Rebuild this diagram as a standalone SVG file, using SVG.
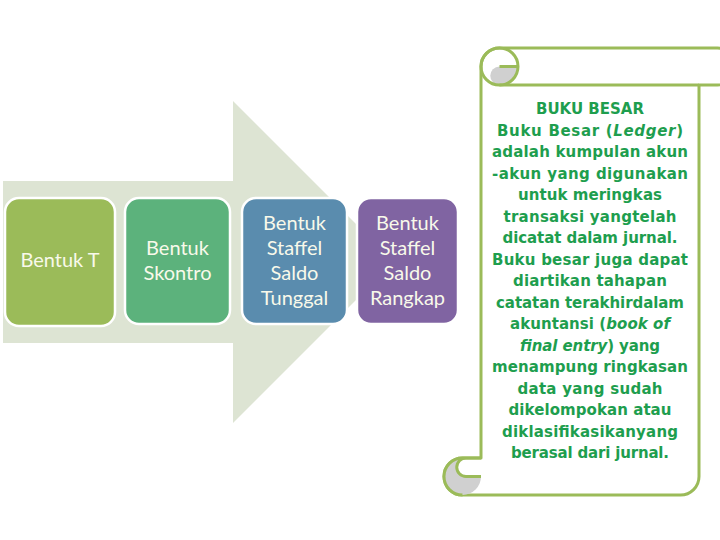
<svg xmlns="http://www.w3.org/2000/svg" width="720" height="540" viewBox="0 0 720 540">
<style>
.box{stroke:#ffffff;stroke-width:2.5}
.bt{font-family:Lato,"Open Sans","Liberation Sans",sans-serif;font-size:20px;fill:#f8f9ea;text-anchor:middle}
.st{font-family:"DejaVu Sans","Liberation Sans",sans-serif;font-weight:bold;font-size:15px;fill:#1e9e4e;text-anchor:middle}
.it{font-style:italic}
.ol{fill:none;stroke:#9bbb59;stroke-width:3;stroke-linejoin:round}
</style>
<rect width="720" height="540" fill="#ffffff"/>
<g id="arrow">
<polygon points="3,181 233,181 233,101 394,262 233,423 233,343 3,343" fill="#dde4d3"/>
</g>
<g id="node-t">
<rect class="box" x="5" y="198" width="110" height="128" rx="14" fill="#9bbb59"/>
<text class="bt" x="60" y="267">Bentuk T</text>
</g>
<g id="node-skontro">
<rect class="box" x="125" y="198" width="105" height="126" rx="14" fill="#5cb27c"/>
<text class="bt" x="177.5" y="255">Bentuk</text>
<text class="bt" x="177.5" y="280">Skontro</text>
</g>
<g id="node-tunggal">
<rect class="box" x="242" y="198" width="105" height="126" rx="14" fill="#5a8cae"/>
<text class="bt" x="294.5" y="230">Bentuk</text>
<text class="bt" x="294.5" y="255">Staffel</text>
<text class="bt" x="294.5" y="280">Saldo</text>
<text class="bt" x="294.5" y="305">Tunggal</text>
</g>
<g id="node-rangkap">
<rect class="box" x="357" y="198" width="101" height="126" rx="14" fill="#8064a2"/>
<text class="bt" x="407.5" y="230">Bentuk</text>
<text class="bt" x="407.5" y="255">Staffel</text>
<text class="bt" x="407.5" y="280">Saldo</text>
<text class="bt" x="407.5" y="305">Rangkap</text>
</g>
<g id="scroll">
<path class="ol" style="fill:#ffffff" d="M481,66.5 A18.5,18.5 0 0 1 499.5,48 H717.5 A18.5,18.5 0 0 1 717.5,85 H699 V476.5 A18.5,18.5 0 0 1 680.5,495 H462.5 A18.5,18.5 0 0 1 462.5,458 H481 Z"/>
<path d="M518,66.5 A18.5,18.5 0 0 1 499.5,85 A9.25,9.25 0 0 1 499.5,66.5 Z" fill="#d0d0d0"/>
<circle class="ol" cx="499.5" cy="66.5" r="18.5"/>
<path class="ol" d="M499.5,66.5 H518 M499.5,85 H699"/>
<path d="M481,476.5 A18.5,18.5 0 1 1 462.5,458 H466 A9.25,9.25 0 0 0 466,476.5 Z" fill="#d0d0d0"/>
<path class="ol" d="M462.5,458 H481 M466,458 A9.25,9.25 0 0 0 466,476.5 H481 M462.5,495 A18.5,18.5 0 0 1 462.5,458"/>
<text class="st" x="590" y="114" textLength="108" lengthAdjust="spacing">BUKU BESAR</text>
<text class="st" x="590" y="135.5" textLength="186" lengthAdjust="spacing">Buku Besar (<tspan class="it">Ledger</tspan>)</text>
<text class="st" x="590" y="157" textLength="196" lengthAdjust="spacing">adalah kumpulan akun</text>
<text class="st" x="590" y="178.5" textLength="196" lengthAdjust="spacing">-akun yang digunakan</text>
<text class="st" x="590" y="200" textLength="144" lengthAdjust="spacing">untuk meringkas</text>
<text class="st" x="590" y="221.5" textLength="173" lengthAdjust="spacing">transaksi yangtelah</text>
<text class="st" x="590" y="243" textLength="175" lengthAdjust="spacing">dicatat dalam jurnal.</text>
<text class="st" x="590" y="264.5" textLength="196" lengthAdjust="spacing">Buku besar juga dapat</text>
<text class="st" x="590" y="286" textLength="154" lengthAdjust="spacing">diartikan tahapan</text>
<text class="st" x="590" y="307.5" textLength="188" lengthAdjust="spacing">catatan terakhirdalam</text>
<text class="st" x="590" y="329" textLength="160" lengthAdjust="spacing">akuntansi (<tspan class="it">book of</tspan></text>
<text class="st" x="590" y="350.5" textLength="140" lengthAdjust="spacing"><tspan class="it">final entry</tspan>) yang</text>
<text class="st" x="590" y="372" textLength="196" lengthAdjust="spacing">menampung ringkasan</text>
<text class="st" x="590" y="393.5" textLength="145" lengthAdjust="spacing">data yang sudah</text>
<text class="st" x="590" y="415" textLength="163" lengthAdjust="spacing">dikelompokan atau</text>
<text class="st" x="590" y="436.5" textLength="176" lengthAdjust="spacing">diklasifikasikanyang</text>
<text class="st" x="590" y="458" textLength="158" lengthAdjust="spacing">berasal dari jurnal.</text>
</g>
</svg>
